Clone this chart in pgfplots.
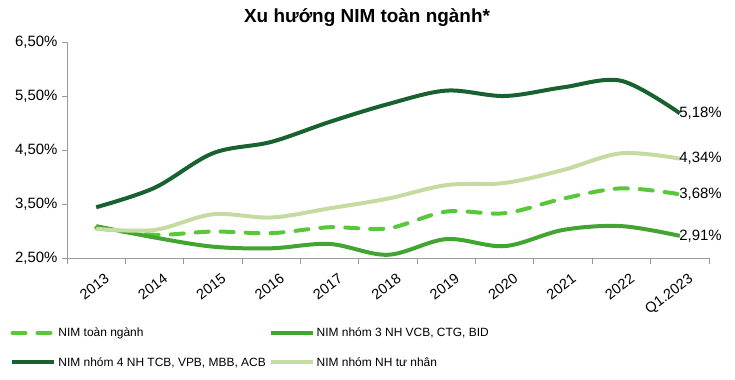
\documentclass[border=0pt]{standalone}
\usepackage{pgfplots}
\pgfplotsset{compat=1.18}
\usepackage{fontspec}
\setmainfont{Liberation Sans}
\definecolor{cdark}{RGB}{24,98,48}
\definecolor{cmid}{RGB}{66,165,50}
\definecolor{cdash}{RGB}{88,200,58}
\definecolor{clight}{RGB}{196,219,162}
\begin{document}
\begin{tikzpicture}
\path[use as bounding box] (0,0) rectangle (735bp,380bp);
\node[font=\fontsize{19}{22}\selectfont\bfseries] at (367bp,362bp) {Xu hướng NIM toàn ngành*};
\begin{axis}[
  at={(67bp,122bp)}, anchor=south west,
  scale only axis, width=642bp, height=216bp,
  xmin=-0.5, xmax=10.5, ymin=2.5, ymax=6.5,
  axis lines*=left,
  axis line style={draw=gray!80, line width=0.9bp},
  xtick={0,...,10},
  xticklabels={2013,2014,2015,2016,2017,2018,2019,2020,2021,2022,Q1.2023},
  major x tick style={draw=none},
  minor xtick={-0.5,0.5,...,10.5},
  minor x tick style={draw=gray!80, line width=0.9bp},
  minor tick length=6bp,
  xticklabel style={rotate=37, anchor=north east, font=\fontsize{14.5}{16}\selectfont, xshift=4bp, yshift=-9bp},
  ytick={2.5,3.5,4.5,5.5,6.5},
  yticklabels={{2,50\%},{3,50\%},{4,50\%},{5,50\%},{6,50\%}},
  ytick style={draw=gray!80, line width=0.9bp},
  major tick length=5bp,
  tick align=outside,
  yticklabel style={font=\fontsize{15}{17}\selectfont, xshift=-1bp},
  clip=false,
  legend columns=2,
  legend cell align=left,
  legend style={at={(-0.093,-0.305)}, anchor=north west, draw=none, fill=none,
    font=\fontsize{12}{15}\selectfont, row sep=15bp,
    /tikz/every even column/.append style={column sep=1bp}},
  legend image code/.code={\draw[#1] (0bp,0bp) -- (42bp,0bp);},
  every axis plot/.append style={smooth, tension=0.55, line width=4bp},
]
\addplot[cdash, dash pattern=on 13bp off 12bp, line cap=round] coordinates {
(0,3.06) (1,2.93) (2,2.99) (3,2.96) (4,3.07) (5,3.05) (6,3.36) (7,3.33) (8,3.60) (9,3.79) (10,3.68)};
\addlegendentry{NIM toàn ngành}
\addplot[cmid] coordinates {
(0,3.09) (1,2.88) (2,2.71) (3,2.68) (4,2.76) (5,2.56) (6,2.85) (7,2.72) (8,3.02) (9,3.09) (10,2.91)};
\addlegendentry{NIM nhóm 3 NH VCB, CTG, BID}
\addplot[cdark] coordinates {
(0,3.44) (1,3.80) (2,4.44) (3,4.65) (4,5.02) (5,5.35) (6,5.60) (7,5.50) (8,5.66) (9,5.78) (10,5.18)};
\addlegendentry{NIM nhóm 4 NH TCB, VPB, MBB, ACB}
\addplot[clight] coordinates {
(0,3.04) (1,3.02) (2,3.31) (3,3.25) (4,3.42) (5,3.60) (6,3.85) (7,3.89) (8,4.13) (9,4.44) (10,4.34)};
\addlegendentry{NIM nhóm NH tư nhân}
\begin{scope}[font=\fontsize{15}{17}\selectfont]
\node[anchor=west, xshift=-4bp] at (axis cs:10,5.18) {5,18\%};
\node[anchor=west, xshift=-4bp] at (axis cs:10,4.34) {4,34\%};
\node[anchor=west, xshift=-4bp] at (axis cs:10,3.68) {3,68\%};
\node[anchor=west, xshift=-4bp] at (axis cs:10,2.91) {2,91\%};
\end{scope}
\end{axis}
\end{tikzpicture}
\end{document}
